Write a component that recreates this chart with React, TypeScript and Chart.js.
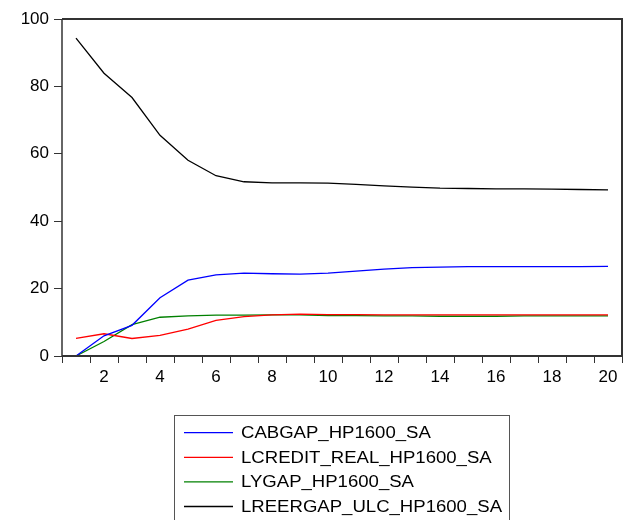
import React, { useEffect, useRef } from "react";
import { Chart, registerables } from "chart.js";

Chart.register(...registerables);

const periods = ["1","2","3","4","5","6","7","8","9","10","11","12","13","14","15","16","17","18","19","20"];
const cabgap = [0, 6.0, 9.1, 17.3, 22.5, 24.1, 24.6, 24.4, 24.3, 24.6, 25.2, 25.8, 26.2, 26.4, 26.5, 26.5, 26.5, 26.5, 26.5, 26.6];
const lcredit = [5.2, 6.6, 5.2, 6.1, 8.0, 10.6, 11.7, 12.2, 12.4, 12.3, 12.3, 12.2, 12.2, 12.2, 12.2, 12.2, 12.2, 12.2, 12.2, 12.2];
const lygap = [0, 4.3, 9.3, 11.5, 11.9, 12.1, 12.1, 12.2, 12.2, 12.0, 12.0, 11.9, 11.9, 11.8, 11.8, 11.8, 11.9, 11.9, 11.9, 11.9];
const lreergap = [94.3, 83.9, 76.7, 65.5, 58.1, 53.5, 51.7, 51.4, 51.4, 51.3, 50.9, 50.5, 50.1, 49.8, 49.7, 49.6, 49.6, 49.5, 49.4, 49.3];
const seriesNames = ["CABGAP_HP1600_SA", "LCREDIT_REAL_HP1600_SA", "LYGAP_HP1600_SA", "LREERGAP_ULC_HP1600_SA"];
const seriesColors = ["#0000ff", "#ff0000", "#008000", "#000000"];
const yTicks = [0, 20, 40, 60, 80, 100];

const FONT = "'Liberation Sans', Arial, sans-serif";

const framePlugin = {
  id: "frame",
  afterDatasetsDraw(chart: any) {
    const { ctx, chartArea } = chart;
    const { left, right, top, bottom } = chartArea;
    ctx.save();
    ctx.strokeStyle = "#333333";
    ctx.lineWidth = 2;
    ctx.beginPath();
    ctx.moveTo(left, top);
    ctx.lineTo(right, top);
    ctx.lineTo(right, bottom);
    ctx.lineTo(left, bottom);
    ctx.stroke();
    ctx.lineWidth = 1.5;
    ctx.beginPath();
    ctx.moveTo(left, top);
    ctx.lineTo(left, bottom);
    ctx.stroke();
    ctx.restore();
  },
};

const boxLegendPlugin = {
  id: "boxLegend",
  afterDraw(chart: any) {
    const { ctx } = chart;
    const datasets = chart.data.datasets;
    const bx = 174.5;
    const by = 415.5;
    const bw = 335;
    const bh = 120;
    const rowH = 24.6;
    const firstY = 432.7;
    ctx.save();
    ctx.strokeStyle = "#555555";
    ctx.lineWidth = 1;
    ctx.strokeRect(bx, by, bw, bh);
    ctx.font = `16px ${FONT}`;
    ctx.textBaseline = "middle";
    ctx.textAlign = "left";
    datasets.forEach((ds: any, i: number) => {
      const y = firstY + i * rowH;
      ctx.strokeStyle = ds.borderColor;
      ctx.lineWidth = 1.3;
      ctx.beginPath();
      ctx.moveTo(184, y);
      ctx.lineTo(233, y);
      ctx.stroke();
      ctx.save();
      ctx.translate(241, y + 1);
      ctx.scale(1.16, 1);
      ctx.fillStyle = "#000000";
      ctx.fillText(ds.label, 0, 0);
      ctx.restore();
    });
    ctx.restore();
  },
};

export default function App() {
  const ref = useRef<HTMLCanvasElement | null>(null);

  useEffect(() => {
    document.body.style.margin = "0";
    const canvas = ref.current;
    if (!canvas) return;
    const series = [cabgap, lcredit, lygap, lreergap];
    const chart = new Chart(canvas, {
      type: "line",
      data: {
        labels: periods,
        datasets: series.map((d, i) => ({
          label: seriesNames[i],
          data: d,
          borderColor: seriesColors[i],
          backgroundColor: seriesColors[i],
          borderWidth: 1.3,
          pointRadius: 0,
          tension: 0,
          fill: false,
        })),
      },
      options: {
        responsive: false,
        animation: false,
        layout: { padding: { top: 19, right: 2, left: 0, bottom: 0 } },
        plugins: {
          legend: { display: false },
          tooltip: { enabled: false },
        },
        scales: {
          x: {
            type: "category",
            offset: true,
            grid: {
              offset: true,
              drawOnChartArea: false,
              drawTicks: true,
              tickLength: 7,
              color: "#333333",
              lineWidth: 1,
            },
            border: { display: false },
            ticks: {
              autoSkip: false,
              maxRotation: 0,
              padding: 4,
              color: "#000000",
              font: { family: FONT, size: 17 },
              callback: (_v: any, i: number) => (Number(periods[i]) % 2 === 0 ? periods[i] : ""),
            },
            afterFit: (scale: any) => {
              scale.height = 164;
            },
          },
          y: {
            min: 0,
            max: 100,
            afterBuildTicks: (scale: any) => {
              scale.ticks = yTicks.map((v) => ({ value: v }));
            },
            grid: {
              drawOnChartArea: false,
              drawTicks: true,
              tickLength: 8,
              color: "#333333",
              lineWidth: 1,
            },
            border: { display: false },
            ticks: {
              padding: 5,
              color: "#000000",
              font: { family: FONT, size: 17 },
            },
            afterFit: (scale: any) => {
              scale.width = 62;
            },
          },
        },
      },
      plugins: [framePlugin, boxLegendPlugin],
    });
    return () => chart.destroy();
  }, []);

  return (
    <div style={{ position: "relative", width: 624, height: 520, overflow: "hidden", background: "#fff" }}>
      <canvas ref={ref} width={624} height={520} style={{ position: "absolute", left: 0, top: 0 }} />
    </div>
  );
}
